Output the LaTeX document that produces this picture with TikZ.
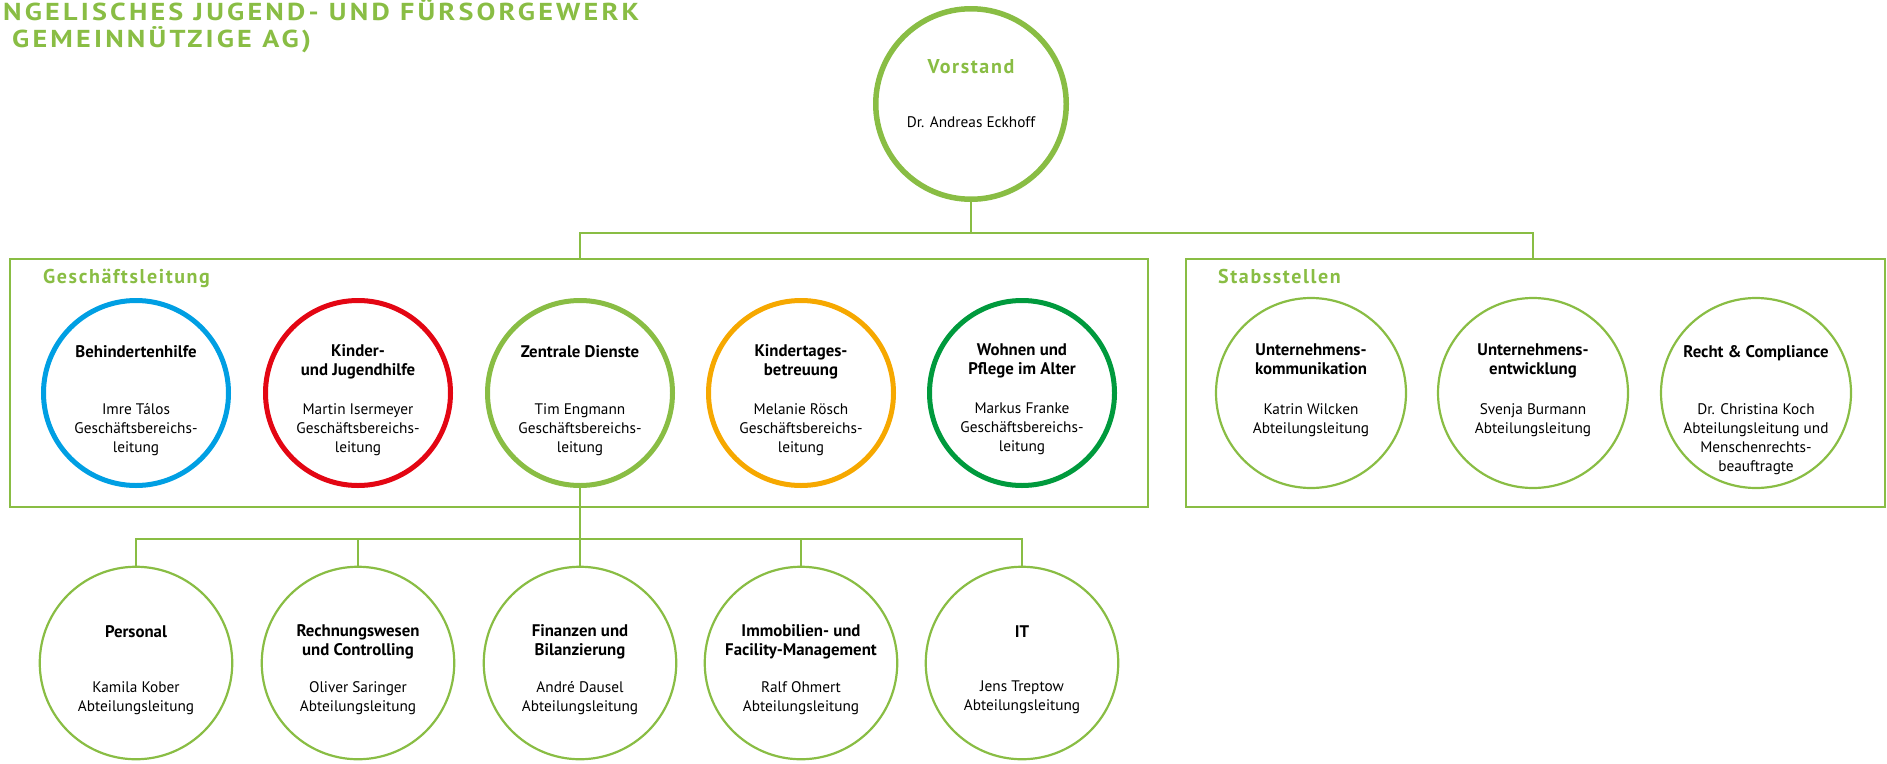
\documentclass[tikz,border=0pt]{standalone}
\usepackage{fontspec}
\setmainfont{PT Sans}
\newfontfamily\trackfont[LetterSpace=8]{PT Sans}
\newfontfamily\titlefont[LetterSpace=13, FakeStretch=1.15]{PT Sans}
\usepackage{xcolor}
\usetikzlibrary{positioning}
\definecolor{ejfgreen}{RGB}{137,189,68}
\definecolor{ejfblue}{RGB}{0,159,227}
\definecolor{ejfred}{RGB}{227,6,19}
\definecolor{ejforange}{RGB}{246,168,0}
\definecolor{ejfdark}{RGB}{0,154,61}
\newcommand{\headfont}{\fontsize{16.8}{19}\selectfont\bfseries}
\newcommand{\personfont}{\fontsize{15.3}{19}\selectfont}
\tikzset{
ring/.style = {circle, draw = #1, line width = 5pt, minimum size = 185pt, inner sep = 0pt},
thin ring/.style = {circle, draw = ejfgreen, line width = 2.2pt, minimum size = #1, inner sep = 0pt},
head/.style = {font = \headfont, align = center, anchor = north, inner sep = 0pt, execute at begin node = \strut},
person/.style = {font = \personfont, align = center, anchor = north, inner sep = 0pt, execute at begin node = \strut},
tracked/.style = {font = \trackfont\bfseries\fontsize{20}{24}\selectfont, text = ejfgreen, inner sep = 0pt},
title line/.style = {font = \titlefont\bfseries\fontsize{24.5}{29}\selectfont, text = ejfgreen, inner sep = 0pt, anchor = base west},
unit box/.style = {rectangle, draw = ejfgreen, line width = 2.5pt, inner sep = 0pt},
conn/.style = {draw = ejfgreen, line width = 2.8pt},
}
\tikzset{
pics/gl unit/.style args={#1, #2, #3}{
        code = {
        \node[ring = #3] (-ring) at (0, 0) {};
        \node[head] (-head) at (0, -49) {#1};
        \node[person] (-person) at (0, 10) {#2};
        }
    },
pics/staff unit/.style args={#1, #2}{
        code = {
        \node[thin ring = 190pt] (-ring) at (0, 0) {};
        \node[head] (-head) at (0, -49) {#1};
        \node[person] (-person) at (0, 10) {#2};
        }
    },
pics/dept unit/.style args={#1, #2}{
        code = {
        \node[thin ring = 192.5pt] (-ring) at (0, 0) {};
        \node[head] (-head) at (0, -39) {#1};
        \node[person] (-person) at (0, 18) {#2};
        }
    }
}
\begin{document}
\begin{tikzpicture}[x = 1pt, y = -1pt]
      \useasboundingbox (0, 0) rectangle (1887, 763);
      % title
      \node[title line] (title1) at (3, 20) {NGELISCHES JUGEND- UND FÜRSORGEWERK};
      \node[title line] (title2) at (12, 47) {GEMEINNÜTZIGE AG)};
      % board
      \node[circle, draw = ejfgreen, line width = 5.5pt, minimum size = 190.5pt, inner sep = 0pt] (vs) at (971, 104) {};
      \node[tracked, anchor = base] (vs-head) at (971, 73) {Vorstand};
      \node[person] (vs-person) at (971, 114) {Dr. Andreas Eckhoff};
      % groups
      \node[unit box, minimum width = 1138pt, minimum height = 248pt] (gl) at (579, 383) {};
      \node[unit box, minimum width = 699pt, minimum height = 248pt] (stab) at (1535.5, 383) {};
      \node[tracked, anchor = base west] (gl-label) at (43, 283) {Geschäftsleitung};
      \node[tracked, anchor = base west] (stab-label) at (1218, 283) {Stabsstellen};
      % management
      \pic (bh) at (136, 393) {gl unit = {Behindertenhilfe, Imre Tálos\\Geschäftsbereichs-\\leitung, ejfblue}};
      \pic (kj) at (358, 393) {gl unit = {Kinder-\\und Jugendhilfe, Martin Isermeyer\\Geschäftsbereichs-\\leitung, ejfred}};
      \pic (zd) at (580, 393) {gl unit = {Zentrale Dienste, Tim Engmann\\Geschäftsbereichs-\\leitung, ejfgreen}};
      \pic (kt) at (801, 393) {gl unit = {Kindertages-\\betreuung, Melanie Rösch\\Geschäftsbereichs-\\leitung, ejforange}};
      \pic (wp) at (1022, 393) {gl unit = {Wohnen und\\Pflege im Alter, Markus Franke\\Geschäftsbereichs-\\leitung, ejfdark}};
      % staff
      \pic (uk) at (1311, 393) {staff unit = {Unternehmens-\\kommunikation, Katrin Wilcken\\Abteilungsleitung}};
      \pic (ue) at (1533, 393) {staff unit = {Unternehmens-\\entwicklung, Svenja Burmann\\Abteilungsleitung}};
      \pic (rc) at (1756, 393) {staff unit = {Recht \& Compliance, Dr. Christina Koch\\Abteilungsleitung und\\Menschenrechts-\\beauftragte}};
      % departments
      \pic (pe) at (136, 663) {dept unit = {Personal, Kamila Kober\\Abteilungsleitung}};
      \pic (rw) at (358, 663) {dept unit = {Rechnungswesen\\und Controlling, Oliver Saringer\\Abteilungsleitung}};
      \pic (fb) at (580, 663) {dept unit = {Finanzen und\\Bilanzierung, André Dausel\\Abteilungsleitung}};
      \pic (im) at (801, 663) {dept unit = {Immobilien- und\\Facility-Management, Ralf Ohmert\\Abteilungsleitung}};
      \pic (it) at (1022, 663) {dept unit = {IT, Jens Treptow\\Abteilungsleitung}};
      % connectors
      \coordinate (top bus) at (971, 233);
      \coordinate (low bus) at (580, 539);
      \draw[conn] (vs.south) -- (top bus);
      \draw[conn] (gl.north -| zd-ring) |- (top bus) -| (stab.north -| ue-ring);
      \draw[conn] (zd-ring.south) -- (fb-ring.north);
      \draw[conn] (pe-ring.north) |- (low bus) -| (it-ring.north);
      \foreach \u in {rw, im}
        \draw[conn] (\u-ring.north) -- (\u-ring.north |- low bus);
    \end{tikzpicture}
\end{document}
